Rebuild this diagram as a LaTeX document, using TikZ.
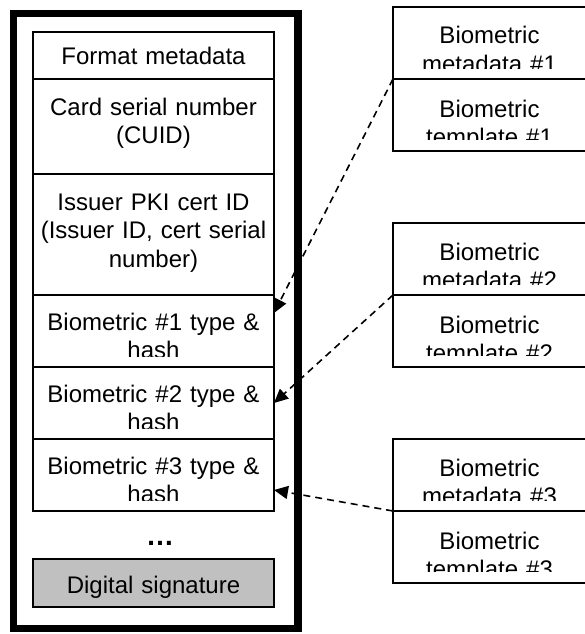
\documentclass[tikz,border=0pt]{standalone}
\usepackage{fontspec}
\setmainfont{Liberation Sans}
\usetikzlibrary{arrows.meta}
\definecolor{siggray}{HTML}{C0C0C0}
\tikzset{
  x=1pt, y=-1pt,
  cardframe/.style={draw=black, line width=7.5pt, anchor=north west, inner sep=0pt, outer sep=0pt},
  field/.style={draw=black, line width=1.5pt, minimum width=241pt, anchor=north west, inner sep=0pt, outer sep=0pt},
  biobox/.style={draw=black, line width=1.5pt, minimum width=193pt, minimum height=72pt, anchor=north west, inner sep=0pt, outer sep=0pt},
  fieldtext/.style={font=\fontsize{24}{28.5}\selectfont, text width=238pt, align=center, anchor=base, inner sep=0pt},
  biotext/.style={font=\fontsize{24}{28.5}\selectfont, text width=190pt, align=center, anchor=base, inner sep=0pt},
  conn/.style={draw=black, line width=1.6pt, dash pattern=on 7pt off 5pt, -{Triangle[length=14pt,width=13pt]}}
}
\begin{document}
\begin{tikzpicture}
\useasboundingbox (0,0) rectangle (584,634);
% outer card frame
\node[cardframe, minimum width=284.5pt, minimum height=615pt] (card) at (13.5,13.5) {};
% fields
\node[field, minimum height=47pt] (fmt) at (33,32) {};
\node[field, minimum height=95pt] (cuid) at (fmt.south west) {};
\node[field, minimum height=121pt] (issuer) at (cuid.south west) {};
\node[field, minimum height=72pt] (bio1) at (issuer.south west) {};
\node[field, minimum height=72pt] (bio2) at (bio1.south west) {};
\node[field, minimum height=72pt] (bio3) at (bio2.south west) {};
\node[field, minimum height=48pt, fill=siggray] (sig) at (33,559) {};

\node[fieldtext] (fmtT) at ([yshift=-33pt]fmt.north) {Format metadata};
\node[fieldtext] (cuidT) at ([yshift=-36pt]cuid.north) {Card serial number\\(CUID)};
\node[fieldtext] (issuerT) at ([yshift=-36pt]issuer.north) {Issuer PKI cert ID\\(Issuer ID, cert serial\\number)};
\begin{scope}
  \clip ([yshift=11pt]bio1.south west) rectangle (bio1.north east);
  \node[fieldtext] (bio1T) at ([yshift=-35pt]bio1.north) {Biometric \#1 type \&\\hash};
\end{scope}
\begin{scope}
  \clip ([yshift=11pt]bio2.south west) rectangle (bio2.north east);
  \node[fieldtext] (bio2T) at ([yshift=-35pt]bio2.north) {Biometric \#2 type \&\\hash};
\end{scope}
\begin{scope}
  \clip ([yshift=11pt]bio3.south west) rectangle (bio3.north east);
  \node[fieldtext] (bio3T) at ([yshift=-35pt]bio3.north) {Biometric \#3 type \&\\hash};
\end{scope}
\node[inner sep=0pt, font=\fontsize{28}{30}\selectfont\bfseries] (dots) at (160,543) {…};
\node[fieldtext] (sigT) at ([yshift=-34pt]sig.north) {Digital signature};

% right-hand biometric records
\foreach \i/\y in {1/7, 2/223, 3/439} {
  \node[biobox] (m\i) at (393,\y) {};
  \node[biobox] (t\i) at (m\i.south west) {};
  \begin{scope}
    \clip ([yshift=11pt]m\i.south west) rectangle (m\i.north east);
    \node[biotext] (m\i T) at ([yshift=-37pt]m\i.north) {Biometric\\metadata \#\i};
  \end{scope}
  \begin{scope}
    \clip ([yshift=12pt]t\i.south west) rectangle (t\i.north east);
    \node[biotext] (t\i T) at ([yshift=-38pt]t\i.north) {Biometric\\template \#\i};
  \end{scope}
}

% connectors
\draw[conn] (m1.south west) -- ([yshift=18pt]bio1.east);
\draw[conn] (m2.south west) -- (bio2.east);
\draw[conn] (m3.south west) -- ([yshift=-15pt]bio3.east);
\end{tikzpicture}
\end{document}
